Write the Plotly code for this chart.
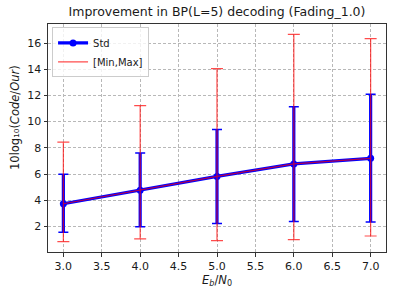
import plotly.graph_objects as go

x_vals = [3.0, 4.0, 5.0, 6.0, 7.0]
mean_vals = [3.73, 4.77, 5.82, 6.77, 7.20]
std_low = [1.55, 1.97, 2.22, 2.37, 2.33]
std_high = [5.98, 7.60, 9.39, 11.14, 12.08]
min_vals = [0.84, 1.05, 0.92, 0.99, 1.27]
max_vals = [8.43, 11.22, 14.05, 16.66, 16.33]
x_ticks = [3.0, 3.5, 4.0, 4.5, 5.0, 5.5, 6.0, 6.5, 7.0]
y_ticks = [2, 4, 6, 8, 10, 12, 14, 16]

std_up = [h - m for h, m in zip(std_high, mean_vals)]
std_dn = [m - l for m, l in zip(mean_vals, std_low)]
mm_up = [h - m for h, m in zip(max_vals, mean_vals)]
mm_dn = [m - l for m, l in zip(mean_vals, min_vals)]

fig = go.Figure()
# Std: thick bars, no caps
fig.add_trace(go.Scatter(
    x=x_vals, y=mean_vals, mode="lines+markers", name="Std",
    line=dict(color="blue", width=3.2), marker=dict(color="blue", size=7),
    error_y=dict(type="data", symmetric=False, array=std_up, arrayminus=std_dn,
                 color="blue", thickness=3.2, width=0),
))
# Std caps (thin)
fig.add_trace(go.Scatter(
    x=x_vals, y=mean_vals, mode="markers", showlegend=False, hoverinfo="skip",
    marker=dict(color="rgba(0,0,0,0)", size=1),
    error_y=dict(type="data", symmetric=False, array=std_up, arrayminus=std_dn,
                 color="blue", thickness=1.5, width=5),
))
# Min/Max
fig.add_trace(go.Scatter(
    x=x_vals, y=mean_vals, mode="lines", name="[Min,Max]",
    line=dict(color="red", width=1.2), opacity=0.7,
    error_y=dict(type="data", symmetric=False, array=mm_up, arrayminus=mm_dn,
                 color="red", thickness=1.2, width=6),
))

axis_common = dict(
    showline=True, linecolor="#333333", linewidth=1, mirror=True,
    ticks="outside", ticklen=3.5, tickcolor="#333333",
    showgrid=True, gridcolor="#b8b8b8", griddash="3px,2px", gridwidth=0.8,
    zeroline=False, tickfont=dict(size=11, color="#1a1a1a"),
)
fig.update_xaxes(range=[2.8, 7.2], tickvals=x_ticks, tickformat=".1f",
                 title=dict(text="<i>E</i><sub><i>b</i></sub>/<i>N</i><sub>0</sub>",
                            font=dict(size=11.5, color="#1a1a1a"), standoff=0),
                 **axis_common)
fig.update_yaxes(range=[0.05, 17.45], tickvals=y_ticks, **axis_common)
fig.add_annotation(
    text="10log\u2081\u2080(<i>Code</i>/<i>Our</i>)", textangle=-90,
    xref="paper", yref="paper", x=0, y=0.5, xshift=-33, yshift=20,
    xanchor="center", yanchor="middle", showarrow=False,
    font=dict(size=11.5, color="#1a1a1a"),
)
fig.update_layout(
    width=395, height=296,
    margin=dict(l=48, r=9, t=24, b=44),
    paper_bgcolor="white", plot_bgcolor="white",
    font=dict(family="DejaVu Sans", color="#1a1a1a"),
    title=dict(text="Improvement in BP(L=5) decoding (Fading_1.0)",
               x=0.5, xref="paper", xanchor="center", y=0.977, yanchor="top",
               font=dict(size=12.5, color="#1a1a1a")),
    legend=dict(x=0.012, y=0.985, xanchor="left", yanchor="top",
                bgcolor="rgba(255,255,255,0.8)", bordercolor="#cccccc", borderwidth=1,
                font=dict(size=10), tracegroupgap=0, itemwidth=30),
    showlegend=True,
)
fig.write_html("out.html", config={"displayModeBar": False},
               post_script="document.body.style.margin='0px';document.body.style.overflow='hidden';")
